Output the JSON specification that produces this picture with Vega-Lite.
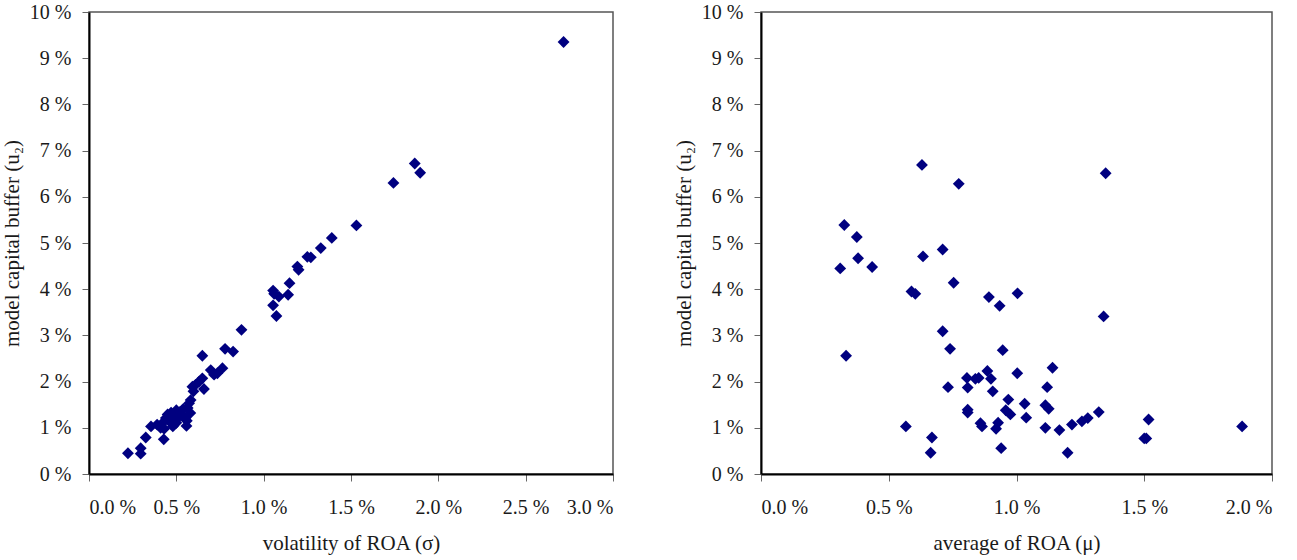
{
  "$schema": "https://vega.github.io/schema/vega-lite/v6.json",
  "background": "white",
  "padding": {"left": 0, "top": 1, "right": 6, "bottom": 2},
  "spacing": 148,
  "bounds": "flush",
  "config": {
    "font": "Liberation Serif",
    "view": {"stroke": "#555555", "strokeWidth": 1.5},
    "axis": {
      "grid": false,
      "domainColor": "black",
      "domainWidth": 2,
      "tickColor": "#666666",
      "tickSize": 7,
      "labelFont": "Liberation Serif",
      "labelFontSize": 20,
      "labelColor": "#1a1a1a",
      "titleFont": "Liberation Serif",
      "titleFontSize": 21,
      "titleFontWeight": "normal",
      "titleColor": "#1a1a1a"
    }
  },
  "datasets": {
    "sigma": [
      {"x": 0.223, "u2": 0.45}, {"x": 0.296, "u2": 0.56}, {"x": 0.296, "u2": 0.44}, {"x": 0.325, "u2": 0.79},
      {"x": 0.355, "u2": 1.03}, {"x": 0.428, "u2": 0.75},
      {"x": 0.39, "u2": 1.07}, {"x": 0.41, "u2": 1.0}, {"x": 0.42, "u2": 1.1}, {"x": 0.43, "u2": 0.98},
      {"x": 0.44, "u2": 1.21}, {"x": 0.45, "u2": 1.29}, {"x": 0.46, "u2": 1.14}, {"x": 0.47, "u2": 1.33},
      {"x": 0.48, "u2": 1.03}, {"x": 0.49, "u2": 1.18}, {"x": 0.5, "u2": 1.38}, {"x": 0.5, "u2": 1.11},
      {"x": 0.51, "u2": 1.22}, {"x": 0.52, "u2": 1.34}, {"x": 0.53, "u2": 1.27}, {"x": 0.54, "u2": 1.41},
      {"x": 0.55, "u2": 1.21}, {"x": 0.56, "u2": 1.15}, {"x": 0.558, "u2": 1.04},
      {"x": 0.58, "u2": 1.32}, {"x": 0.573, "u2": 1.53}, {"x": 0.582, "u2": 1.6}, {"x": 0.565, "u2": 1.43},
      {"x": 0.592, "u2": 1.89}, {"x": 0.598, "u2": 1.79}, {"x": 0.61, "u2": 1.93}, {"x": 0.63, "u2": 2.0},
      {"x": 0.649, "u2": 2.07}, {"x": 0.658, "u2": 1.84}, {"x": 0.649, "u2": 2.56}, {"x": 0.697, "u2": 2.25},
      {"x": 0.716, "u2": 2.15}, {"x": 0.735, "u2": 2.18}, {"x": 0.764, "u2": 2.29}, {"x": 0.779, "u2": 2.71},
      {"x": 0.825, "u2": 2.65}, {"x": 0.873, "u2": 3.12},
      {"x": 1.054, "u2": 3.97}, {"x": 1.06, "u2": 3.9}, {"x": 1.054, "u2": 3.65}, {"x": 1.073, "u2": 3.42},
      {"x": 1.087, "u2": 3.84}, {"x": 1.14, "u2": 3.88}, {"x": 1.148, "u2": 4.13}, {"x": 1.193, "u2": 4.49},
      {"x": 1.2, "u2": 4.42}, {"x": 1.25, "u2": 4.7}, {"x": 1.27, "u2": 4.69}, {"x": 1.327, "u2": 4.89},
      {"x": 1.39, "u2": 5.11}, {"x": 1.531, "u2": 5.38}, {"x": 1.743, "u2": 6.3}, {"x": 1.865, "u2": 6.72},
      {"x": 1.896, "u2": 6.52}, {"x": 2.717, "u2": 9.35}
    ],
    "mu": [
      {"x": 0.63, "u2": 6.69}, {"x": 0.774, "u2": 6.28}, {"x": 1.349, "u2": 6.51}, {"x": 0.326, "u2": 5.39},
      {"x": 0.375, "u2": 5.13}, {"x": 0.38, "u2": 4.67}, {"x": 0.31, "u2": 4.45}, {"x": 0.435, "u2": 4.48},
      {"x": 0.634, "u2": 4.71}, {"x": 0.711, "u2": 4.86}, {"x": 0.754, "u2": 4.14}, {"x": 0.589, "u2": 3.95},
      {"x": 0.604, "u2": 3.9}, {"x": 0.892, "u2": 3.83}, {"x": 1.004, "u2": 3.91}, {"x": 0.934, "u2": 3.64},
      {"x": 1.341, "u2": 3.41}, {"x": 0.711, "u2": 3.09}, {"x": 0.74, "u2": 2.71}, {"x": 0.333, "u2": 2.56},
      {"x": 0.946, "u2": 2.68}, {"x": 1.141, "u2": 2.3}, {"x": 0.886, "u2": 2.23}, {"x": 1.003, "u2": 2.18},
      {"x": 0.806, "u2": 2.08}, {"x": 0.839, "u2": 2.06}, {"x": 0.852, "u2": 2.08}, {"x": 0.9, "u2": 2.06},
      {"x": 0.732, "u2": 1.88}, {"x": 0.809, "u2": 1.87}, {"x": 0.907, "u2": 1.79}, {"x": 1.12, "u2": 1.88},
      {"x": 0.968, "u2": 1.61}, {"x": 1.032, "u2": 1.52}, {"x": 1.113, "u2": 1.49}, {"x": 1.126, "u2": 1.41},
      {"x": 0.958, "u2": 1.38}, {"x": 0.976, "u2": 1.29}, {"x": 0.809, "u2": 1.39}, {"x": 0.809, "u2": 1.33},
      {"x": 1.038, "u2": 1.22}, {"x": 1.322, "u2": 1.34}, {"x": 0.859, "u2": 1.1}, {"x": 0.865, "u2": 1.03},
      {"x": 0.928, "u2": 1.11}, {"x": 0.92, "u2": 0.98}, {"x": 1.113, "u2": 1.0}, {"x": 1.168, "u2": 0.95},
      {"x": 1.217, "u2": 1.07}, {"x": 1.256, "u2": 1.14}, {"x": 1.279, "u2": 1.21}, {"x": 1.517, "u2": 1.18},
      {"x": 1.5, "u2": 0.77}, {"x": 1.508, "u2": 0.77}, {"x": 1.883, "u2": 1.03}, {"x": 0.94, "u2": 0.56},
      {"x": 1.2, "u2": 0.46}, {"x": 0.567, "u2": 1.03}, {"x": 0.669, "u2": 0.79}, {"x": 0.664, "u2": 0.46}
    ]
  },
  "hconcat": [
    {
      "width": 524,
      "height": 462,
      "data": {"name": "sigma"},
      "mark": {"type": "point", "shape": "diamond", "filled": true, "size": 140, "color": "#000080", "opacity": 1},
      "encoding": {
        "x": {
          "field": "x", "type": "quantitative",
          "scale": {"domain": [0, 3], "nice": false, "zero": true},
          "axis": {
            "title": "volatility of ROA (σ)",
            "values": [0, 0.5, 1, 1.5, 2, 2.5, 3],
            "labelExpr": "format(datum.value, '.1f') + ' %'",
            "labelPadding": 16,
            "titlePadding": 15
          }
        },
        "y": {
          "field": "u2", "type": "quantitative",
          "scale": {"domain": [0, 10], "nice": false},
          "axis": {
            "title": "model capital buffer (u₂)",
            "values": [0, 1, 2, 3, 4, 5, 6, 7, 8, 9, 10],
            "labelExpr": "format(datum.value, 'd') + ' %'",
            "labelPadding": 11,
            "titlePadding": 7
          }
        }
      }
    },
    {
      "width": 511,
      "height": 462,
      "data": {"name": "mu"},
      "mark": {"type": "point", "shape": "diamond", "filled": true, "size": 140, "color": "#000080", "opacity": 1},
      "encoding": {
        "x": {
          "field": "x", "type": "quantitative",
          "scale": {"domain": [0, 2], "nice": false, "zero": true},
          "axis": {
            "title": "average of ROA (μ)",
            "values": [0, 0.5, 1, 1.5, 2],
            "labelExpr": "format(datum.value, '.1f') + ' %'",
            "labelPadding": 16,
            "titlePadding": 15
          }
        },
        "y": {
          "field": "u2", "type": "quantitative",
          "scale": {"domain": [0, 10], "nice": false},
          "axis": {
            "title": "model capital buffer (u₂)",
            "values": [0, 1, 2, 3, 4, 5, 6, 7, 8, 9, 10],
            "labelExpr": "format(datum.value, 'd') + ' %'",
            "labelPadding": 11,
            "titlePadding": 7
          }
        }
      }
    }
  ]
}
